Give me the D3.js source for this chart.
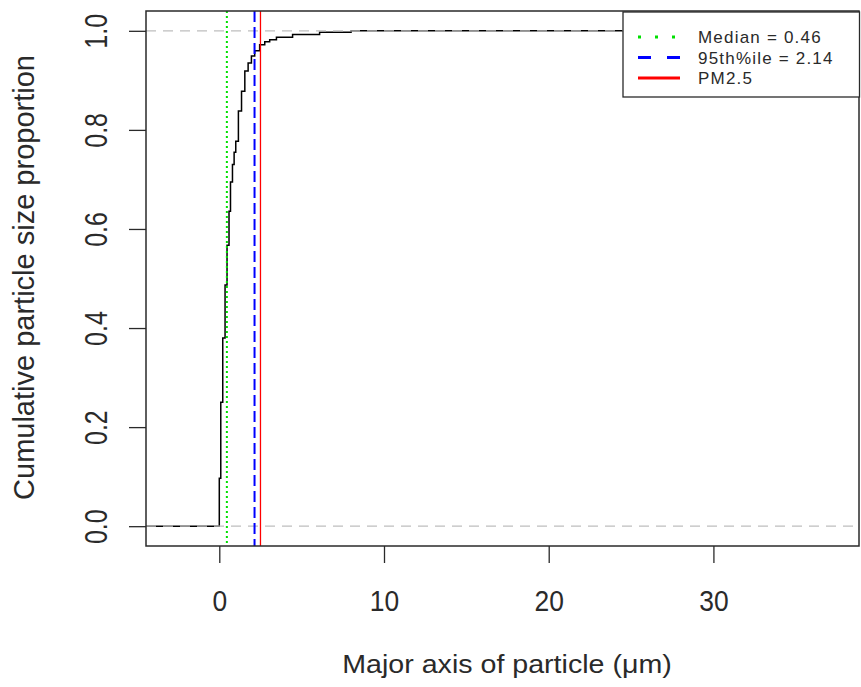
<!DOCTYPE html>
<html><head><meta charset="utf-8">
<script src="https://cdn.jsdelivr.net/npm/d3@7"></script>
<style>body{margin:0;background:#fff}svg{display:block}text{font-family:"Liberation Sans",Arial,Helvetica,sans-serif}</style>
</head><body>
<svg id="c" width="861" height="687"></svg>
<script>
// ECDF step points (x = major axis µm, y = cumulative proportion)
const sizes = [0.0, 0.09, 0.21, 0.35, 0.47, 0.59, 0.68, 0.80, 0.90, 1.00, 1.16, 1.35, 1.55, 1.75, 1.95, 2.15, 2.45, 2.76, 3.06, 3.47, 4.45, 6.09, 8.0];
const cumProp = [0.097, 0.25, 0.38, 0.487, 0.567, 0.636, 0.695, 0.73, 0.755, 0.777, 0.838, 0.878, 0.919, 0.935, 0.949, 0.96, 0.972, 0.978, 0.982, 0.987, 0.9925, 0.997, 1.0];
const xTicks = [0, 10, 20, 30];
const yTicks = [0.0, 0.2, 0.4, 0.6, 0.8, 1.0];
const refNames = ["Median = 0.46", "95th%ile = 2.14", "PM2.5"];
const refValues = [0.46, 2.14, 2.5];
const refColors = ["#00e000", "#0000ff", "#ff0000"];
const hLines = [0, 1];

const W = 861, H = 687;
const m = {l: 146, r: 1, t: 11, b: 141};
const svg = d3.select("#c");
const x = d3.scaleLinear().domain([-4.45, 38.9]).range([m.l, W - m.r]);
const y = d3.scaleLinear().domain([-0.04, 1.04]).range([H - m.b, m.t]);
const [x0, x1] = x.range();
const [yb, yt] = y.range();
const ink = "#2a2a2a";

const g = svg.append("g");
g.append("defs").append("clipPath").attr("id", "clip")
  .append("rect").attr("x", x0).attr("y", yt).attr("width", x1 - x0).attr("height", yb - yt);

const plot = g.append("g").attr("clip-path", "url(#clip)");

// ECDF curve
const pts = [[x.domain()[0], 0]].concat(sizes.map((s, i) => [s, cumProp[i]])).concat([[x.domain()[1], 1]]);
plot.append("path").datum(pts)
  .attr("d", d3.line().x(d => x(d[0])).y(d => y(d[1])).curve(d3.curveStepAfter))
  .attr("fill", "none").attr("stroke", "#000").attr("stroke-width", 1.5);

// gray dashed horizontal reference lines
plot.selectAll(".hl").data(hLines).enter().append("line")
  .attr("x1", x0).attr("x2", x1).attr("y1", d => y(d)).attr("y2", d => y(d))
  .attr("stroke", "#bebebe").attr("stroke-width", 1.3).attr("stroke-dasharray", "10,7");

// vertical lines
const vDash = ["2,3", "11,5", null];
const vW = [2, 2, 1.3];
plot.selectAll(".vl").data(refValues).enter().append("line")
  .attr("x1", d => x(d)).attr("x2", d => x(d)).attr("y1", yt).attr("y2", yb)
  .attr("stroke", (d, i) => refColors[i]).attr("stroke-width", (d, i) => vW[i])
  .attr("stroke-dasharray", (d, i) => vDash[i]);

// box
g.append("rect").attr("x", x0).attr("y", yt).attr("width", x1 - x0 - 1).attr("height", yb - yt)
  .attr("fill", "none").attr("stroke", ink).attr("stroke-width", 1.5);

// axes
const xa = g.append("g").attr("transform", `translate(0,${yb})`)
  .call(d3.axisBottom(x).tickValues(xTicks).tickSize(17).tickFormat(d3.format("d")));
xa.select(".domain").remove();
xa.selectAll("line").attr("stroke", ink).attr("stroke-width", 1.3);
xa.selectAll("text").attr("font-size", 30).attr("fill", ink)
  .attr("y", 611 - yb).attr("dy", null).attr("transform", "scale(0.88,1)");

const ya = g.append("g").attr("transform", `translate(${x0},0)`)
  .call(d3.axisLeft(y).tickValues(yTicks).tickSize(17).tickFormat(d3.format(".1f")));
ya.select(".domain").remove();
ya.selectAll("line").attr("stroke", ink).attr("stroke-width", 1.3);
ya.selectAll("text").attr("font-size", 32).attr("fill", ink)
  .attr("x", 0).attr("y", 0).attr("dy", null).attr("text-anchor", "middle")
  .attr("transform", `translate(${106.5 - x0},0) rotate(-90) scale(0.78,1)`);

// axis titles
g.append("text").attr("transform", `translate(507,673) scale(1.1,1)`).attr("text-anchor", "middle")
  .attr("font-size", 26).attr("fill", ink).text("Major axis of particle (\u03bcm)");
g.append("text").attr("transform", `translate(34,277.5) rotate(-90)`)
  .attr("text-anchor", "middle").attr("font-size", 29).attr("fill", ink)
  .text("Cumulative particle size proportion");

// legend
const lg = g.append("g");
lg.append("rect").attr("x", 623).attr("y", 12).attr("width", 236.5).attr("height", 85)
  .attr("fill", "#fff").attr("stroke", ink).attr("stroke-width", 1.3);
const lDash = ["3,14", "13,16", null];
const rows = lg.selectAll(".row").data(refNames).enter().append("g")
  .attr("transform", (d, i) => `translate(0,${37 + i * 20.5})`);
rows.append("line").attr("x1", 638).attr("x2", 680).attr("y1", 0).attr("y2", 0)
  .attr("stroke", (d, i) => refColors[i]).attr("stroke-width", 2.8)
  .attr("stroke-dasharray", (d, i) => lDash[i]);
rows.append("text").attr("x", 698).attr("y", 6).attr("letter-spacing", 1.2)
  .attr("font-size", 17).attr("fill", ink).text(d => d);
</script>
</body></html>
